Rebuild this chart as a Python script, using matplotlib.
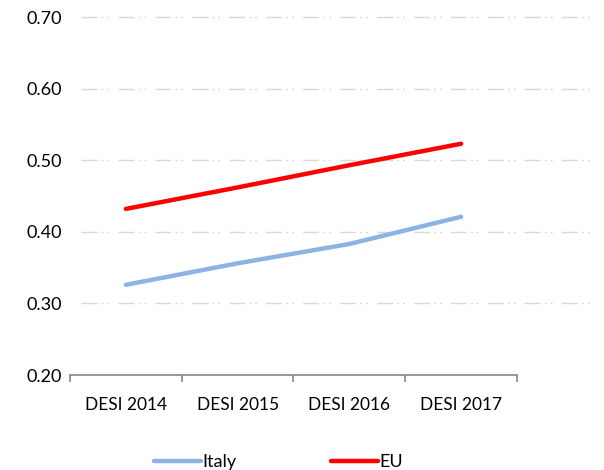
import matplotlib.pyplot as plt
from matplotlib.ticker import FixedLocator

plt.rcParams['font.family'] = ['Lato', 'DejaVu Sans']

# data
categories = ["DESI 2014", "DESI 2015", "DESI 2016", "DESI 2017"]
italy = [0.326, 0.356, 0.383, 0.421]
eu = [0.432, 0.462, 0.493, 0.523]
y_ticks = [0.20, 0.30, 0.40, 0.50, 0.60, 0.70]

fig = plt.figure(figsize=(6.04, 4.70), dpi=100)
ax = fig.add_axes([0.1159, 0.2021, 0.740, 0.7617])

x = list(range(len(categories)))
ax.plot(x, italy, color="#8db3e2", lw=3.2, solid_capstyle="round", label="Italy")
ax.plot(x, eu, color="#ff0000", lw=3.2, solid_capstyle="round", label="EU")

ax.set_xlim(-0.5, len(categories) - 0.5)
ax.set_ylim(0.20, 0.70)
ax.set_yticks(y_ticks)
ax.set_yticklabels(["%.2f" % v for v in y_ticks])
ax.set_xticks(x)
ax.set_xticklabels(categories)
ax.xaxis.set_minor_locator(FixedLocator([i - 0.5 for i in range(len(categories) + 1)]))

# gridlines: dash-dot-dot, light gray, running past the axis end
for v in y_ticks[1:]:
    ax.axhline(v, xmin=0.025, xmax=1.179, color="#d9d9d9", lw=1.0,
               ls=(0, (11.5, 2.9, 1.4, 2.9, 1.4, 6.5)), zorder=0, clip_on=False)

for s in ["top", "right", "left"]:
    ax.spines[s].set_visible(False)
ax.spines["bottom"].set_color("#868686")
ax.spines["bottom"].set_linewidth(1.2)

ax.tick_params(axis="y", length=0, pad=6, labelsize=13, colors="black")
ax.tick_params(axis="x", which="major", length=0, pad=16, labelsize=12.5)
ax.tick_params(axis="x", which="minor", length=5, width=1.2, color="#868686")

fig.legend(loc="lower center", bbox_to_anchor=(0.461, -0.035), ncol=2, frameon=False,
           fontsize=13, handlelength=2.6, handletextpad=0.1, columnspacing=5.2)

fig.savefig("out.png", dpi=100)
